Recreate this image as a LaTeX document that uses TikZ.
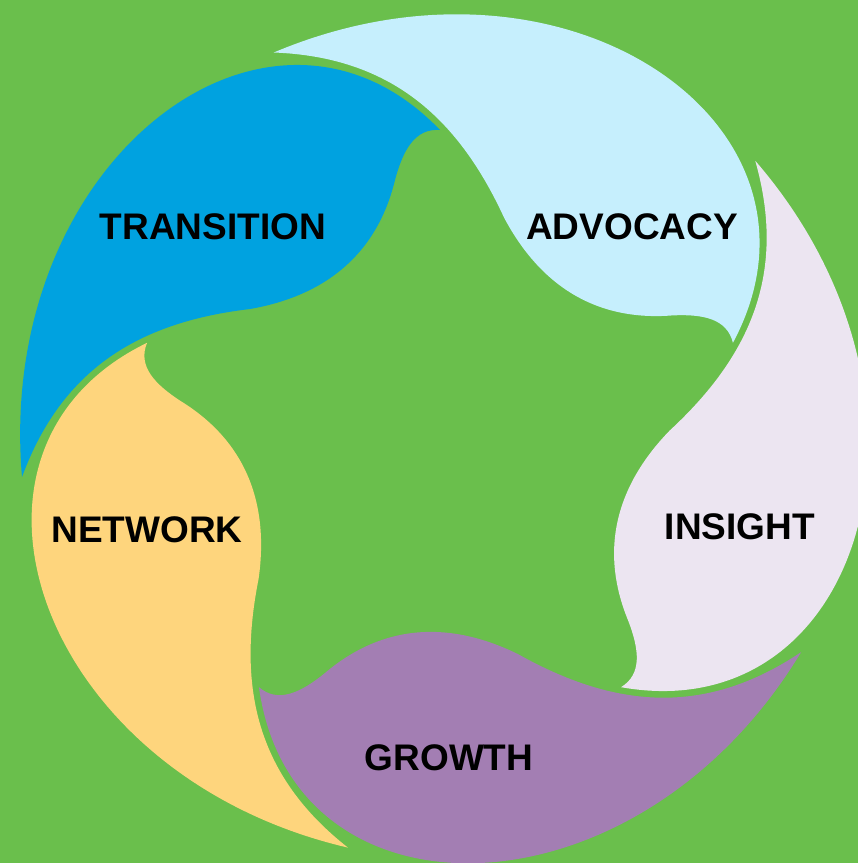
\documentclass[tikz,border=0pt]{standalone}
\usepackage{fontspec}
\setmainfont{Liberation Sans}
\usepackage{tikz}
\usetikzlibrary{positioning}
\definecolor{bggreen}{RGB}{106,191,76}
\definecolor{transblue}{RGB}{0,162,224}
\definecolor{advblue}{RGB}{198,239,253}
\definecolor{inslilac}{RGB}{236,229,241}
\definecolor{growpurple}{RGB}{163,126,179}
\definecolor{netyellow}{RGB}{254,213,125}
\tikzset{
    %Define style for the petals
    petal/.style={
             draw=none,
             shift={(440,438)}},
    %Define style for the labels
    petallabel/.style={
             text=black,
             font=\fontsize{37}{44}\selectfont\bfseries}
}
\begin{document}
\begin{tikzpicture}[x=1pt, y=-1pt]
    \fill[bggreen] (0,0) rectangle (858,863);
    \clip (0,0) rectangle (858,863);
    % one petal, turned round the centre five times
    \foreach \ang/\col in {0/transblue, -72/advblue, -144/inslilac, -216/growpurple, -288/netyellow}
        \fill[petal, \col, rotate=\ang] (-418,39)
            .. controls (-445,-278) and (-170,-485) .. (0,-308)
            .. controls (-25,-310) and (-37,-288) .. (-45,-258)
            .. controls (-62,-188) and (-110,-143) .. (-190,-129)
            .. controls (-300,-116) and (-378,-70) .. (-418,39) -- cycle;
    % labels
    \node[petallabel] (transition) at (213,227) {TRANSITION};
    \node[petallabel] (advocacy) at (632,227) {ADVOCACY};
    \node[petallabel] (insight) at (740,527) {INSIGHT};
    \node[petallabel] (growth) at (449,758) {GROWTH};
    \node[petallabel] (network) at (147,530) {NETWORK};
\end{tikzpicture}
\end{document}
